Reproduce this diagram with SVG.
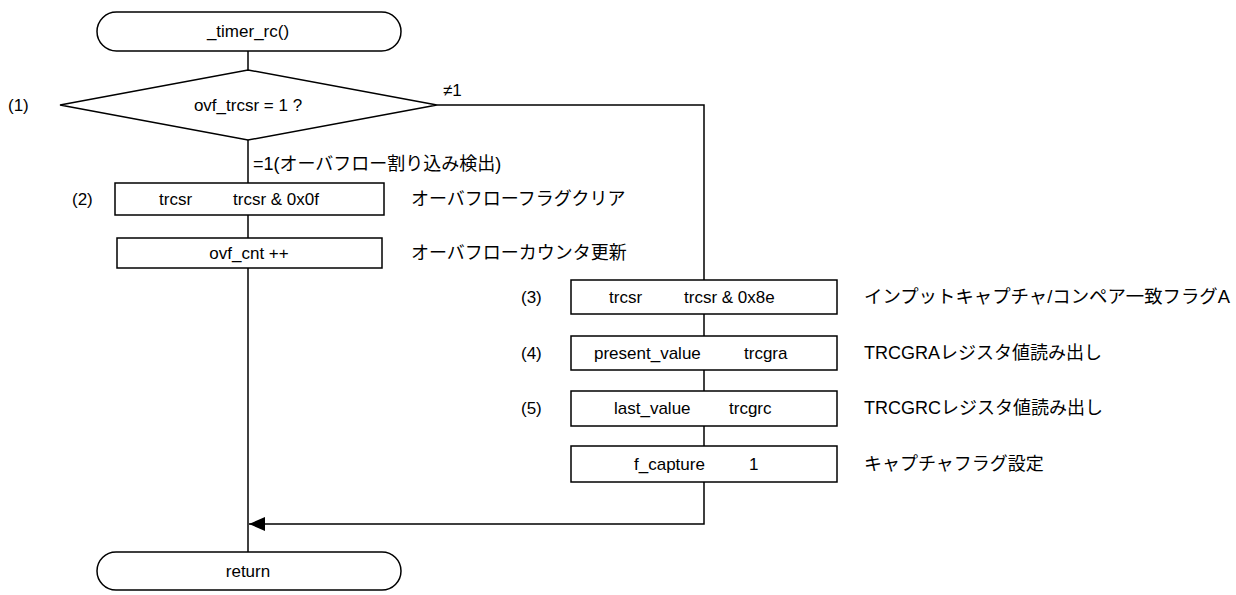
<svg xmlns="http://www.w3.org/2000/svg" width="1236" height="595" viewBox="0 0 1236 595">
<defs>
<style>
.s{fill:#fff;stroke:#000;stroke-width:1.5}
.l{fill:none;stroke:#000;stroke-width:1.5}
text{font-family:"Liberation Sans","Noto Sans CJK JP",sans-serif;font-size:17px;fill:#000}
.j{font-size:18px}
.c{text-anchor:middle}
</style>
<marker id="ah" markerWidth="16" markerHeight="14" refX="16" refY="7" orient="auto" markerUnits="userSpaceOnUse"><path d="M0,0 L16,7 L0,14 Z" fill="#000"/></marker>
</defs>
<rect width="1236" height="595" fill="#fff"/>
<g id="connectors">
<path class="l" d="M248,51 V70"/>
<path class="l" d="M248,140 V183"/>
<path class="l" d="M248,215 V238"/>
<path class="l" d="M248,268 V552"/>
<path class="l" d="M437,105 H704 V280"/>
<path class="l" d="M704,314 V336"/>
<path class="l" d="M704,370 V391"/>
<path class="l" d="M704,426 V446"/>
<path class="l" d="M704,482 V524 H249" marker-end="url(#ah)"/>
<text x="443" y="96">≠1</text>
<text class="j" x="253" y="170">=1(オーバフロー割り込み検出)</text>
</g>
<g id="start">
<rect class="s" x="97" y="12" width="304" height="39" rx="19.5"/>
<text class="c" x="248" y="37">_timer_rc()</text>
</g>
<g id="decision">
<polygon class="s" points="248,70 437,105 248,140 60,105"/>
<text class="c" x="248" y="111">ovf_trcsr = 1 ?</text>
<text x="8" y="111">(1)</text>
</g>
<g id="clear-flag">
<rect class="s" x="115" y="183" width="269" height="32"/>
<text x="159" y="205">trcsr</text>
<text x="233" y="205">trcsr &amp; 0x0f</text>
<text x="72" y="205">(2)</text>
<text class="j" x="411" y="205">オーバフローフラグクリア</text>
</g>
<g id="count">
<rect class="s" x="117" y="238" width="265" height="30"/>
<text class="c" x="249" y="259">ovf_cnt ++</text>
<text class="j" x="411" y="259">オーバフローカウンタ更新</text>
</g>
<g id="clear-a">
<rect class="s" x="571" y="280" width="266" height="34"/>
<text x="609" y="303">trcsr</text>
<text x="684" y="303">trcsr &amp; 0x8e</text>
<text x="521" y="303">(3)</text>
<text class="j" x="864" y="303" textLength="366" lengthAdjust="spacingAndGlyphs">インプットキャプチャ/コンペア一致フラグA</text>
</g>
<g id="read-gra">
<rect class="s" x="571" y="336" width="266" height="34"/>
<text x="594" y="359">present_value</text>
<text x="744" y="359">trcgra</text>
<text x="521" y="359">(4)</text>
<text class="j" x="864" y="359">TRCGRAレジスタ値読み出し</text>
</g>
<g id="read-grc">
<rect class="s" x="571" y="391" width="266" height="35"/>
<text x="614" y="414">last_value</text>
<text x="729" y="414">trcgrc</text>
<text x="521" y="414">(5)</text>
<text class="j" x="864" y="414">TRCGRCレジスタ値読み出し</text>
</g>
<g id="set-capture">
<rect class="s" x="571" y="446" width="266" height="36"/>
<text x="634" y="470">f_capture</text>
<text x="749" y="470">1</text>
<text class="j" x="864" y="470">キャプチャフラグ設定</text>
</g>
<g id="end">
<rect class="s" x="97" y="552" width="304" height="38" rx="19"/>
<text class="c" x="248" y="577">return</text>
</g>
</svg>
